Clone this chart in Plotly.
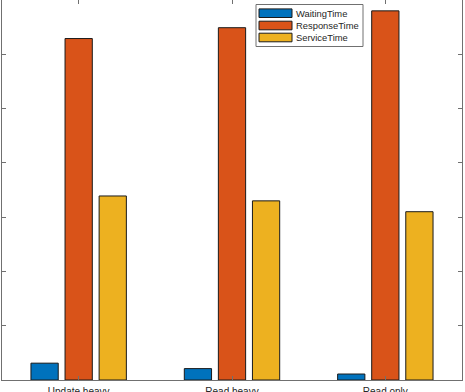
import plotly.graph_objects as go

categories = ["Update heavy", "Read heavy", "Read only"]
waiting_time = [3.1, 2.1, 1.1]
response_time = [62.9, 64.9, 68.0]
service_time = [33.9, 33.0, 31.0]
series_names = ["WaitingTime", "ResponseTime", "ServiceTime"]
series_colors = ["#0072BD", "#D95319", "#EDB120"]

W, H = 465, 392
ML, MR, MT, MB = 2, 3, 0, 12
PW = W - ML - MR
PH = H - MT - MB

def px2x(px):
    return (px - ML) / PW

def px2y(py):
    return 1 - (py - MT) / PH

fig = go.Figure()
xpos = [1, 2, 3]
for name, vals, col in zip(series_names, [waiting_time, response_time, service_time], series_colors):
    fig.add_trace(go.Bar(
        x=xpos, y=vals, name=name,
        marker=dict(color=col, line=dict(color="#1a1a1a", width=1)),
        showlegend=False,
    ))

axis_col = "#707070"
font = "Liberation Sans, Arial, sans-serif"

fig.update_layout(
    width=W, height=H,
    margin=dict(l=ML, r=MR, t=MT, b=MB, autoexpand=False),
    barmode="group", bargap=1/3, bargroupgap=0.2,
    plot_bgcolor="white", paper_bgcolor="white",
    font=dict(family=font, size=10, color="#262626"),
    xaxis=dict(
        range=[0.5, 3.5], tickvals=xpos, ticktext=categories,
        ticks="inside", ticklen=4, tickcolor=axis_col, tickwidth=1,
        showline=True, linecolor=axis_col, linewidth=1, mirror="allticks",
        showgrid=False, zeroline=False, ticklabelstandoff=2, automargin=False,
        tickfont=dict(family=font, size=10, color="#262626"),
    ),
    yaxis=dict(
        range=[0, 70], dtick=10, automargin=False,
        ticks="inside", ticklen=4, tickcolor=axis_col, tickwidth=1,
        showline=True, linecolor=axis_col, linewidth=1, mirror="allticks",
        showgrid=False, zeroline=False, showticklabels=False,
    ),
)

# Manual legend (MATLAB style)
shapes = [dict(type="rect", xref="paper", yref="paper",
               x0=px2x(256), x1=px2x(363), y0=px2y(46.5), y1=px2y(4.5),
               line=dict(color=axis_col, width=1), fillcolor="white", layer="above")]
annotations = []
row_centers = [13.2, 25.5, 37.5]
for name, col, cy in zip(series_names, series_colors, row_centers):
    shapes.append(dict(type="rect", xref="paper", yref="paper",
                       x0=px2x(259), x1=px2x(292), y0=px2y(cy + 4.3), y1=px2y(cy - 4.3),
                       line=dict(color="#1a1a1a", width=1), fillcolor=col, layer="above"))
    annotations.append(dict(xref="paper", yref="paper", x=px2x(294), y=px2y(cy),
                            text=name, showarrow=False, xanchor="left", yanchor="middle",
                            font=dict(family=font, size=9.4, color="#262626")))
fig.update_layout(shapes=shapes, annotations=annotations)

fig.write_html("out.html")
